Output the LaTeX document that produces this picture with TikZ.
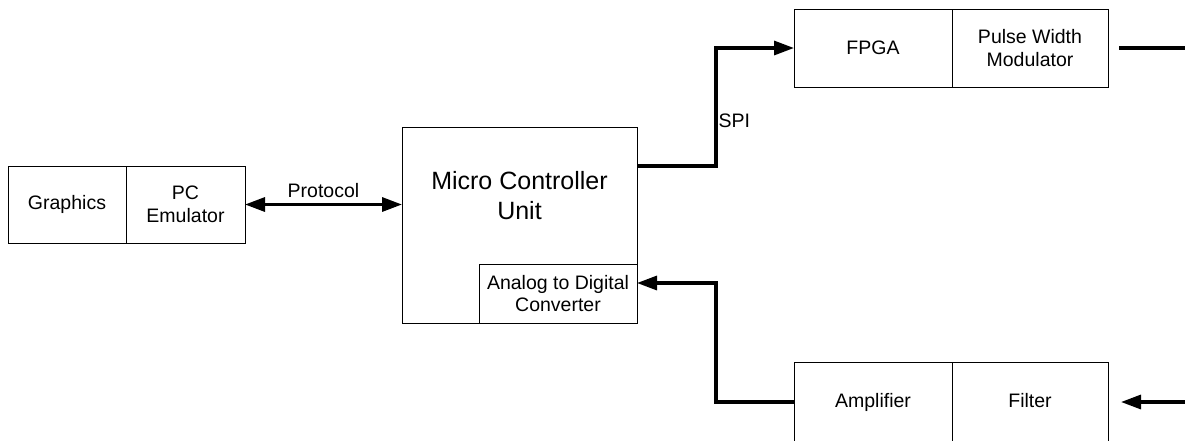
\documentclass[tikz,border=0pt]{standalone}
\usepackage{fontspec}
\setmainfont{Liberation Sans}
\usetikzlibrary{positioning,arrows.meta}

\begin{document}
\begin{tikzpicture}[x=1pt, y=-1pt,
  block/.style={draw, line width=1pt, inner sep=0pt, outer sep=0pt, align=center,
    font=\fontsize{19.5}{22.5}\selectfont},
  mcutext/.style={inner sep=0pt, align=center, font=\fontsize{25}{30}\selectfont},
  tag/.style={inner sep=1pt, font=\fontsize{19.5}{22.5}\selectfont},
  bus/.style={line width=3.2pt},
  head/.style={-{Triangle[length=20pt,width=14pt]}},
  both/.style={{Triangle[length=20pt,width=14pt]}-{Triangle[length=20pt,width=14pt]}}]

  \useasboundingbox (0,0) rectangle (1185,440);

  %% left: host side
  \node[block, minimum width=118pt, minimum height=77pt] (graphics) at (67,204.5) {Graphics};
  \node[block, minimum width=119pt, minimum height=77pt, right=0pt of graphics] (pc) {PC\\Emulator};

  %% micro controller with its converter
  \node[block, minimum width=235pt, minimum height=196pt] (mcu) at (519.5,225) {};
  \node[mcutext, below=44pt of mcu.north] (mcutxt) {Micro Controller\\Unit};
  \node[block, minimum width=158pt, minimum height=59pt, anchor=south east] (adc) at (mcu.south east) {Analog to Digital\\Converter};

  %% right: output and input chains
  \node[block, minimum width=158pt, minimum height=78pt] (fpga) at (873,48) {FPGA};
  \node[block, minimum width=156pt, minimum height=78pt, right=0pt of fpga] (pwm) {Pulse Width\\Modulator};
  \node[block, minimum width=158pt, minimum height=80pt, text height=14pt, text depth=4pt] (amp) at (873,402) {Amplifier};
  \node[block, minimum width=156pt, minimum height=80pt, text height=14pt, text depth=4pt, right=0pt of amp] (filter) {Filter};

  \coordinate (pwmout) at (1185,48);
  \coordinate (sensor) at (1185,402);

  \draw[bus, both] (pc.east) -- node[tag, above=4pt] (protocol) {Protocol} (mcu.west |- pc.east); % PC<->MCU
  \draw[bus, head] ([yshift=-39pt]mcu.north east) -| node[tag, right, pos=0.69] (spi) {SPI} ([xshift=-78pt]fpga.west) -- (fpga.west); % MCU->FPGA
  \draw[bus] ([xshift=11pt]pwm.east) -- (pwmout); % PWM out
  \draw[bus, head] (amp.west) -- ++(-78,0) |- ([yshift=10.5pt]adc.east); % Amp->ADC
  \draw[bus, head] (sensor) -- ([xshift=13pt]filter.east); % in->Filter

\end{tikzpicture}
\end{document}
